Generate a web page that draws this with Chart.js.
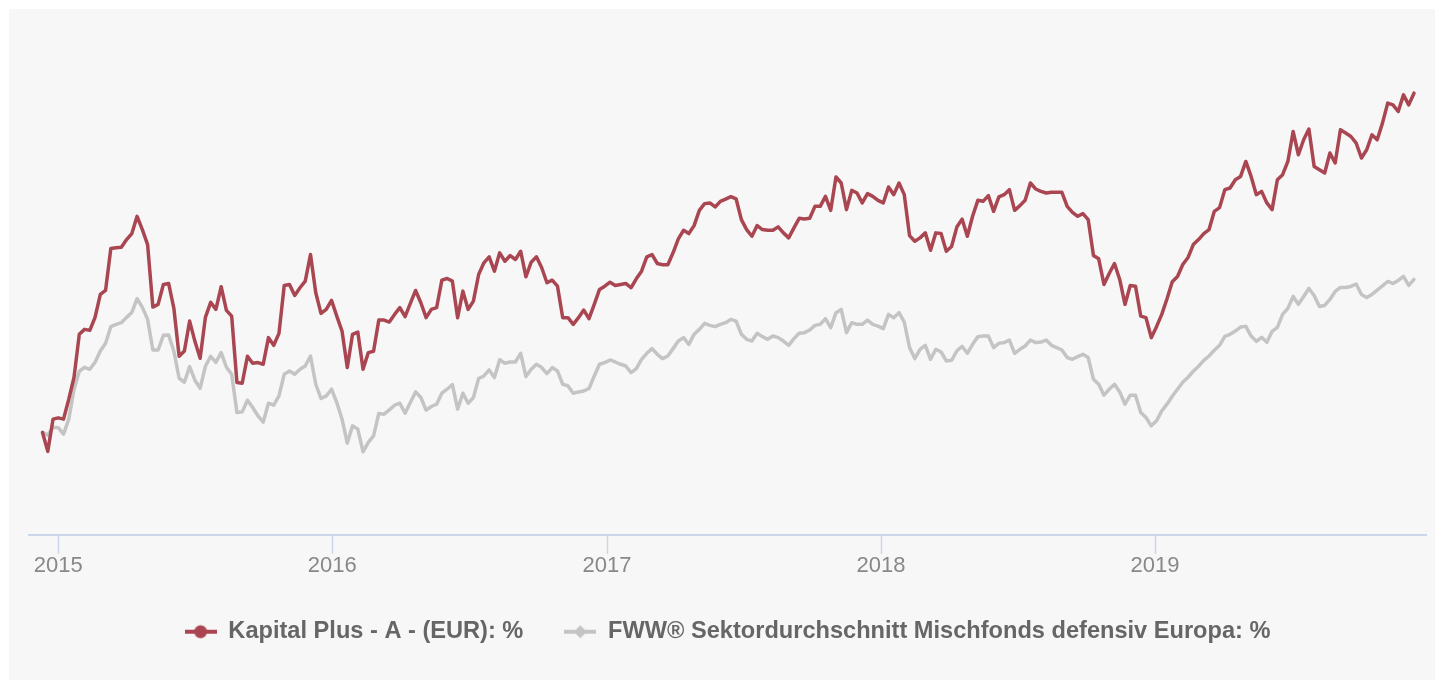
<!DOCTYPE html>
<html>
<head>
<meta charset="utf-8">
<script src="https://cdn.jsdelivr.net/npm/chart.js@4.4.1/dist/chart.umd.min.js"></script>
<style>
html,body{margin:0;padding:0;background:#fff;}
canvas{display:block;}
</style>
</head>
<body>
<canvas id="c" width="1435" height="680"></canvas>
<script>
// Weekly observation dates
const dates = [
'2014-12-11','2014-12-18','2014-12-25',
'2015-01-01','2015-01-08','2015-01-15','2015-01-22','2015-01-29',
'2015-02-05','2015-02-12','2015-02-19','2015-02-26',
'2015-03-05','2015-03-12','2015-03-19','2015-03-26',
'2015-04-02','2015-04-09','2015-04-16','2015-04-23','2015-04-30',
'2015-05-07','2015-05-14','2015-05-21','2015-05-28',
'2015-06-04','2015-06-11','2015-06-18','2015-06-25',
'2015-07-02','2015-07-09','2015-07-16','2015-07-23','2015-07-30',
'2015-08-06','2015-08-13','2015-08-20','2015-08-27',
'2015-09-03','2015-09-10','2015-09-17','2015-09-24',
'2015-10-01','2015-10-08','2015-10-15','2015-10-22','2015-10-29',
'2015-11-05','2015-11-12','2015-11-19','2015-11-26',
'2015-12-03','2015-12-10','2015-12-17','2015-12-24','2015-12-31',
'2016-01-07','2016-01-14','2016-01-21','2016-01-28',
'2016-02-04','2016-02-11','2016-02-18','2016-02-25',
'2016-03-03','2016-03-10','2016-03-17','2016-03-24','2016-03-31',
'2016-04-07','2016-04-14','2016-04-21','2016-04-28',
'2016-05-05','2016-05-12','2016-05-19','2016-05-26',
'2016-06-02','2016-06-09','2016-06-16','2016-06-23','2016-06-30',
'2016-07-07','2016-07-14','2016-07-21','2016-07-28',
'2016-08-04','2016-08-11','2016-08-18','2016-08-25',
'2016-09-01','2016-09-08','2016-09-15','2016-09-22','2016-09-29',
'2016-10-06','2016-10-13','2016-10-20','2016-10-27',
'2016-11-03','2016-11-10','2016-11-17','2016-11-24',
'2016-12-01','2016-12-08','2016-12-15','2016-12-22','2016-12-29',
'2017-01-05','2017-01-12','2017-01-19','2017-01-26',
'2017-02-02','2017-02-09','2017-02-16','2017-02-23',
'2017-03-02','2017-03-09','2017-03-16','2017-03-23','2017-03-30',
'2017-04-06','2017-04-13','2017-04-20','2017-04-27',
'2017-05-04','2017-05-11','2017-05-18','2017-05-25',
'2017-06-01','2017-06-08','2017-06-15','2017-06-22','2017-06-29',
'2017-07-06','2017-07-13','2017-07-20','2017-07-27',
'2017-08-03','2017-08-10','2017-08-17','2017-08-24','2017-08-31',
'2017-09-07','2017-09-14','2017-09-21','2017-09-28',
'2017-10-05','2017-10-12','2017-10-19','2017-10-26',
'2017-11-02','2017-11-09','2017-11-16','2017-11-23','2017-11-30',
'2017-12-07','2017-12-14','2017-12-21','2017-12-28',
'2018-01-04','2018-01-11','2018-01-18','2018-01-25',
'2018-02-01','2018-02-08','2018-02-15','2018-02-22',
'2018-03-01','2018-03-08','2018-03-15','2018-03-22','2018-03-29',
'2018-04-05','2018-04-12','2018-04-19','2018-04-26',
'2018-05-03','2018-05-10','2018-05-17','2018-05-24','2018-05-31',
'2018-06-07','2018-06-14','2018-06-21','2018-06-28',
'2018-07-05','2018-07-12','2018-07-19','2018-07-26',
'2018-08-02','2018-08-09','2018-08-16','2018-08-23','2018-08-30',
'2018-09-06','2018-09-13','2018-09-20','2018-09-27',
'2018-10-04','2018-10-11','2018-10-18','2018-10-25',
'2018-11-01','2018-11-08','2018-11-15','2018-11-22','2018-11-29',
'2018-12-06','2018-12-13','2018-12-20','2018-12-27',
'2019-01-03','2019-01-10','2019-01-17','2019-01-24','2019-01-31',
'2019-02-07','2019-02-14','2019-02-21','2019-02-28',
'2019-03-07','2019-03-14','2019-03-21','2019-03-28',
'2019-04-04','2019-04-11','2019-04-18','2019-04-25',
'2019-05-02','2019-05-09','2019-05-16','2019-05-23','2019-05-30',
'2019-06-06','2019-06-13','2019-06-20','2019-06-27',
'2019-07-04','2019-07-11','2019-07-18','2019-07-25',
'2019-08-01','2019-08-08','2019-08-15','2019-08-22','2019-08-29',
'2019-09-05','2019-09-12','2019-09-19','2019-09-26',
'2019-10-03','2019-10-10','2019-10-17','2019-10-24','2019-10-31',
'2019-11-07','2019-11-14','2019-11-21','2019-11-28',
'2019-12-05','2019-12-12'
];

// Kapital Plus - A - (EUR), performance in %
const kapitalPlus = [
0.00,-1.90,1.33,1.46,1.33,3.33,5.53,9.83,10.33,10.23,
11.53,13.83,14.23,18.43,18.50,18.56,19.33,19.93,21.66,20.33,
18.83,12.56,12.83,14.83,14.93,12.43,7.63,8.16,11.16,9.13,
7.43,11.53,13.03,12.33,14.60,12.23,11.66,5.00,4.93,7.63,
6.93,7.00,6.83,9.50,8.73,9.93,14.73,14.83,13.73,14.50,
15.16,17.83,14.00,11.93,12.33,13.23,11.66,10.16,6.50,9.83,
10.06,6.33,8.00,8.13,11.26,11.26,11.06,11.83,12.50,11.60,
12.93,14.23,13.00,11.50,12.33,12.50,15.26,15.43,15.16,11.50,
14.16,12.33,13.16,15.83,17.00,17.60,16.16,18.00,17.16,17.73,
17.33,18.16,15.60,17.06,17.60,16.50,15.00,15.26,14.66,11.50,
11.50,10.83,11.50,12.26,11.40,12.83,14.33,14.66,15.06,14.73,
14.83,14.93,14.50,15.40,16.16,17.60,17.83,16.93,16.80,16.80,
18.00,19.40,20.26,19.93,20.73,22.26,22.93,23.00,22.60,23.16,
23.38,23.63,23.40,21.33,20.33,19.66,20.73,20.33,20.26,20.26,
20.60,20.00,19.50,20.50,21.46,21.40,21.46,22.66,22.66,23.66,
22.26,25.60,25.00,22.33,24.26,24.00,23.00,23.93,23.66,23.26,
23.00,24.60,23.83,25.00,23.83,19.73,19.16,19.50,20.00,18.26,
20.00,19.93,18.16,18.63,20.58,21.38,19.66,21.66,23.26,23.16,
23.73,22.16,23.60,23.83,24.33,22.26,22.73,23.26,25.00,24.40,
24.16,24.00,24.06,24.06,24.06,22.66,22.06,21.66,21.93,21.33,
17.73,17.40,14.83,15.93,16.93,15.33,12.83,14.73,14.66,11.66,
11.50,9.50,10.60,11.83,13.40,15.10,15.63,16.83,17.53,18.83,
19.33,19.93,20.33,22.16,22.53,24.33,24.50,25.33,25.66,27.16,
25.66,23.83,24.16,23.00,22.33,25.33,25.83,27.16,30.16,27.83,
29.33,30.40,26.66,26.33,26.00,28.00,27.00,30.33,30.00,29.66,
29.00,27.50,28.33,29.83,29.33,31.00,33.00,32.83,32.16,33.83,
32.83,34.00
];

// FWW Sektordurchschnitt Mischfonds defensiv Europa, performance in %
const sectorAvg = [
0.00,-0.27,0.53,0.48,-0.17,1.33,4.33,6.13,6.53,6.33,
7.03,8.16,8.93,10.60,10.83,11.00,11.53,12.03,13.40,12.53,
11.33,8.26,8.26,9.73,9.76,8.13,5.43,5.03,6.60,5.23,
4.43,6.63,7.63,7.03,8.00,6.53,5.83,2.00,2.06,3.23,
2.50,1.66,1.03,2.93,2.73,3.66,5.83,6.16,5.83,6.33,
6.66,7.66,4.83,3.40,3.66,4.33,3.00,1.33,-1.07,0.66,
0.33,-1.94,-1.00,-0.34,1.90,1.83,2.26,2.73,2.93,1.93,
3.00,4.06,3.50,2.23,2.60,2.83,3.93,4.33,4.80,2.33,
3.93,2.93,3.50,5.40,5.66,6.26,5.50,7.28,6.93,7.06,
7.06,7.93,5.60,6.33,6.83,6.50,5.90,6.50,6.16,4.83,
4.66,3.93,4.06,4.16,4.40,5.66,6.83,7.00,7.26,7.06,
6.83,6.66,6.00,6.40,7.33,7.93,8.40,7.83,7.40,7.66,
8.40,9.16,9.50,8.83,9.83,10.33,10.93,10.73,10.60,10.83,
11.00,11.33,11.16,9.83,9.33,9.16,9.93,9.60,9.33,9.66,
9.50,9.16,8.73,9.40,9.93,10.00,10.26,10.73,10.83,11.40,
10.50,12.00,12.33,10.00,11.00,10.83,10.83,11.26,10.83,10.66,
10.40,11.83,11.50,12.00,11.06,8.50,7.40,8.33,8.73,7.33,
8.33,8.06,7.16,7.23,8.16,8.63,7.93,8.83,9.60,9.66,
9.66,8.50,8.93,9.00,9.26,7.93,8.33,8.66,9.26,9.00,
9.06,9.26,8.73,8.50,8.26,7.50,7.33,7.60,7.83,7.50,
5.33,4.83,3.73,4.33,4.83,4.06,2.83,3.73,3.73,2.00,
1.50,0.66,1.16,2.16,2.83,3.63,4.33,5.03,5.53,6.13,
6.63,7.23,7.66,8.23,8.73,9.63,9.83,10.16,10.56,10.63,
9.66,9.13,9.53,9.03,10.13,10.53,11.83,12.43,13.63,12.83,
13.63,14.43,13.73,12.63,12.73,13.33,14.13,14.53,14.53,14.63,
14.88,13.83,13.53,13.83,14.26,14.68,15.13,14.93,15.23,15.63,
14.73,15.33
];

const seriesNames = ['Kapital Plus - A - (EUR): %', 'FWW® Sektordurchschnitt Mischfonds defensiv Europa: %'];
const yearLabels = ['2015', '2016', '2017', '2018', '2019'];
const axisStart = '2014-11-23';
const axisEnd = '2019-12-28';

function dayOf(s) {
  const p = s.split('-').map(Number);
  return (Date.UTC(p[0], p[1] - 1, p[2]) - Date.UTC(2015, 0, 1)) / 86400000;
}

function makeMarker(color, shape) {
  const c = document.createElement('canvas');
  c.width = 32; c.height = 16;
  const g = c.getContext('2d');
  g.strokeStyle = color; g.lineWidth = 4;
  g.beginPath(); g.moveTo(0, 8); g.lineTo(32, 8); g.stroke();
  g.fillStyle = color; g.beginPath();
  if (shape === 'circle') {
    g.arc(16, 8, 6.5, 0, Math.PI * 2);
  } else {
    g.moveTo(16, 1.5); g.lineTo(22.5, 8); g.lineTo(16, 14.5); g.lineTo(9.5, 8); g.closePath();
  }
  g.fill();
  return c;
}

const RED = '#a94651';
const GRAY = '#c4c4c4';
const FONT = "'Liberation Sans', Arial, Helvetica, sans-serif";

const bgPlugin = {
  id: 'bg',
  beforeDraw(chart) {
    const ctx = chart.ctx;
    ctx.save();
    ctx.fillStyle = '#ffffff';
    ctx.fillRect(0, 0, chart.width, chart.height);
    ctx.fillStyle = '#f7f7f7';
    ctx.fillRect(9, 9, chart.width - 9, chart.height - 9);
    ctx.restore();
  }
};

new Chart(document.getElementById('c'), {
  type: 'line',
  data: {
    datasets: [
      {
        label: seriesNames[0],
        data: dates.map((d, i) => ({ x: dayOf(d), y: kapitalPlus[i] })),
        borderColor: RED,
        backgroundColor: RED,
        borderWidth: 3.5,
        borderJoinStyle: 'round',
        borderCapStyle: 'round',
        pointRadius: 0,
        pointStyle: makeMarker(RED, 'circle'),
        tension: 0,
        fill: false
      },
      {
        label: seriesNames[1],
        data: dates.map((d, i) => ({ x: dayOf(d), y: sectorAvg[i] })),
        borderColor: GRAY,
        backgroundColor: GRAY,
        borderWidth: 3.5,
        borderJoinStyle: 'round',
        borderCapStyle: 'round',
        pointRadius: 0,
        pointStyle: makeMarker(GRAY, 'diamond'),
        tension: 0,
        fill: false
      }
    ]
  },
  options: {
    responsive: false,
    animation: false,
    layout: { padding: { top: 40, left: 29, right: 9, bottom: 26.5 } },
    plugins: {
      tooltip: { enabled: false },
      legend: {
        position: 'bottom',
        labels: {
          usePointStyle: true,
          pointStyleWidth: 32,
          padding: 41,
          color: '#666666',
          font: { family: FONT, size: 23.6, weight: 'bold' }
        }
      }
    },
    scales: {
      x: {
        type: 'linear',
        min: dayOf(axisStart),
        max: dayOf(axisEnd),
        afterBuildTicks: (s) => { s.ticks = yearLabels.map(y => ({ value: dayOf(y + '-01-01') })); },
        afterFit: (s) => { s.height = 44; },
        ticks: {
          callback: (v, i) => yearLabels[i],
          color: '#888888',
          font: { family: FONT, size: 22 },
          padding: -1,
          maxRotation: 0,
          autoSkip: false
        },
        grid: {
          display: true,
          drawOnChartArea: false,
          drawTicks: true,
          tickLength: 19,
          tickWidth: 1.5,
          tickColor: '#ccd6eb',
          color: '#ccd6eb'
        },
        border: { display: true, color: '#ccd6eb', width: 2 }
      },
      y: {
        display: false,
        min: -10.27,
        max: 39.33
      }
    }
  },
  plugins: [bgPlugin]
});
</script>
</body>
</html>
